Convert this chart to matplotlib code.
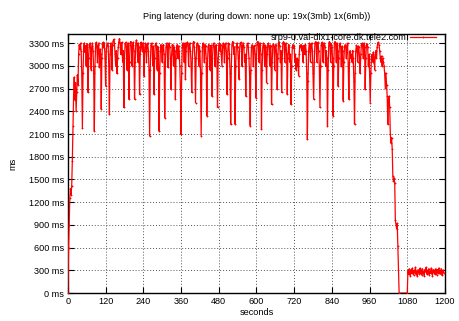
import matplotlib
matplotlib.use("Agg")
import matplotlib.pyplot as plt

# ping samples (seconds since start, latency in ms)
seconds = [
    0, 2, 4, 6, 8, 10, 12, 14, 16, 18,
    20, 22, 24, 26, 28, 30, 32, 34, 36, 38,
    40, 42, 44, 46, 48, 50, 52, 54, 56, 58,
    60, 62, 64, 66, 68, 70, 72, 74, 76, 78,
    80, 82, 84, 86, 88, 90, 92, 94, 96, 98,
    100, 102, 104, 106, 108, 110, 112, 114, 116, 118,
    120, 122, 124, 126, 128, 130, 132, 134, 136, 138,
    140, 142, 144, 146, 148, 150, 152, 154, 156, 158,
    160, 162, 164, 166, 168, 170, 172, 174, 176, 178,
    180, 182, 184, 186, 188, 190, 192, 194, 196, 198,
    200, 202, 204, 206, 208, 210, 212, 214, 216, 218,
    220, 222, 224, 226, 228, 230, 232, 234, 236, 238,
    240, 242, 244, 246, 248, 250, 252, 254, 256, 258,
    260, 262, 264, 266, 268, 270, 272, 274, 276, 278,
    280, 282, 284, 286, 288, 290, 292, 294, 296, 298,
    300, 302, 304, 306, 308, 310, 312, 314, 316, 318,
    320, 322, 324, 326, 328, 330, 332, 334, 336, 338,
    340, 342, 344, 346, 348, 350, 352, 354, 356, 358,
    360, 362, 364, 366, 368, 370, 372, 374, 376, 378,
    380, 382, 384, 386, 388, 390, 392, 394, 396, 398,
    400, 402, 404, 406, 408, 410, 412, 414, 416, 418,
    420, 422, 424, 426, 428, 430, 432, 434, 436, 438,
    440, 442, 444, 446, 448, 450, 452, 454, 456, 458,
    460, 462, 464, 466, 468, 470, 472, 474, 476, 478,
    480, 482, 484, 486, 488, 490, 492, 494, 496, 498,
    500, 502, 504, 506, 508, 510, 512, 514, 516, 518,
    520, 522, 524, 526, 528, 530, 532, 534, 536, 538,
    540, 542, 544, 546, 548, 550, 552, 554, 556, 558,
    560, 562, 564, 566, 568, 570, 572, 574, 576, 578,
    580, 582, 584, 586, 588, 590, 592, 594, 596, 598,
    600, 602, 604, 606, 608, 610, 612, 614, 616, 618,
    620, 622, 624, 626, 628, 630, 632, 634, 636, 638,
    640, 642, 644, 646, 648, 650, 652, 654, 656, 658,
    660, 662, 664, 666, 668, 670, 672, 674, 676, 678,
    680, 682, 684, 686, 688, 690, 692, 694, 696, 698,
    700, 702, 704, 706, 708, 710, 712, 714, 716, 718,
    720, 722, 724, 726, 728, 730, 732, 734, 736, 738,
    740, 742, 744, 746, 748, 750, 752, 754, 756, 758,
    760, 762, 764, 766, 768, 770, 772, 774, 776, 778,
    780, 782, 784, 786, 788, 790, 792, 794, 796, 798,
    800, 802, 804, 806, 808, 810, 812, 814, 816, 818,
    820, 822, 824, 826, 828, 830, 832, 834, 836, 838,
    840, 842, 844, 846, 848, 850, 852, 854, 856, 858,
    860, 862, 864, 866, 868, 870, 872, 874, 876, 878,
    880, 882, 884, 886, 888, 890, 892, 894, 896, 898,
    900, 902, 904, 906, 908, 910, 912, 914, 916, 918,
    920, 922, 924, 926, 928, 930, 932, 934, 936, 938,
    940, 942, 944, 946, 948, 950, 952, 954, 956, 958,
    960, 962, 964, 966, 968, 970, 972, 974, 976, 978,
    980, 982, 984, 986, 988, 990, 992, 994, 996, 998,
    1000, 1002, 1004, 1006, 1008, 1010, 1012, 1014, 1016, 1018,
    1020, 1022, 1024, 1026, 1028, 1030, 1032, 1034, 1036, 1038,
    1040, 1042, 1044, 1046, 1048, 1050, 1052, 1054, 1080,
    1082, 1084, 1086, 1088, 1090, 1092, 1094, 1096, 1098, 1100,
    1102, 1104, 1106, 1108, 1110, 1112, 1114, 1116, 1118, 1120,
    1122, 1124, 1126, 1128, 1130, 1132, 1134, 1136, 1138, 1140,
    1142, 1144, 1146, 1148, 1150, 1152, 1154, 1156, 1158, 1160,
    1162, 1164, 1166, 1168, 1170, 1172, 1174, 1176, 1178, 1180,
    1182, 1184, 1186, 1188, 1190, 1192, 1194, 1196,
]

latency_ms = [
    0, 600, 900, 1250, 1380, 1300, 1420, 1750, 2200, 2600,
    2850, 2550, 2780, 2400, 2650, 2880, 2750, 3150, 3280, 3220,
    3300, 3200, 2900, 2180, 2900, 3250, 3300, 3180, 3270, 3000,
    3250, 3290, 2650, 3100, 3280, 3300, 3230, 2950, 3260, 3300,
    3200, 2900, 2140, 3000, 3270, 3310, 3250, 3050, 3280, 3300,
    2980, 3220, 3150, 2430, 3100, 3290, 3310, 3240, 3300, 3100,
    2735, 3200, 3280, 3300, 3260, 3000, 2360, 3150, 3300, 3250,
    2950, 3280, 3330, 3350, 3300, 3150, 3000, 3200, 2900, 3100,
    3250, 3320, 3360, 3300, 3150, 3280, 3310, 3050, 3200, 2450,
    3100, 3290, 3310, 3250, 2950, 3280, 3300, 2560, 3050, 3300,
    3320, 3260, 3000, 3280, 3310, 3200, 2560, 3050, 3300, 3340,
    3280, 3050, 3300, 3250, 2625, 3150, 3310, 3300, 3200, 3300,
    3250, 2870, 3200, 3300, 3280, 3050, 3290, 3300, 3200, 2950,
    2075, 2950, 3270, 3300, 3250, 3000, 3260, 2625, 3100, 3280,
    3300, 3260, 2950, 3250, 3200, 2140, 2900, 3200, 3280, 3250,
    3050, 3270, 3280, 3150, 2315, 3000, 3250, 3300, 3260, 2980,
    3280, 3300, 3250, 3100, 2690, 3150, 3280, 3270, 3000, 3250,
    3200, 2560, 3100, 3250, 3280, 3100, 3260, 3200, 3000, 2700,
    2095, 2900, 3250, 3300, 3280, 3050, 3300, 2825, 3200, 3300,
    3310, 3260, 3000, 3290, 3300, 3200, 3000, 2650, 3100, 3300,
    3320, 3250, 3100, 2515, 3100, 3290, 3300, 3270, 3000, 3260,
    3200, 2900, 2080, 2900, 3250, 3300, 3270, 3050, 3280, 3260,
    3100, 2340, 3000, 3250, 3280, 3200, 2950, 3270, 3250, 2600,
    3100, 3280, 3300, 3250, 3000, 3270, 3280, 3100, 2450, 3050,
    3270, 3300, 3200, 3280, 3150, 3000, 3250, 3300, 3280, 3050,
    3290, 3300, 3200, 2625, 3100, 3300, 3290, 3150, 2900, 2230,
    3000, 3280, 3320, 3300, 3150, 3250, 2230, 3000, 3260, 3300,
    3250, 3100, 2825, 3200, 3300, 3310, 3260, 3000, 3270, 3300,
    3250, 3050, 3150, 2600, 3100, 3280, 3300, 3250, 3100, 2900,
    2210, 2950, 3250, 3280, 3250, 3000, 3260, 3270, 3150, 2580,
    3100, 3290, 3320, 3300, 3050, 3280, 3300, 3150, 2165, 2950,
    3250, 3300, 3280, 3000, 3270, 3250, 2780, 3150, 3280, 3300,
    3250, 3000, 3270, 3260, 2490, 3050, 3270, 3290, 3250, 2950,
    3260, 3280, 3150, 2690, 3100, 3300, 3310, 3260, 3050, 3200,
    2650, 3100, 3300, 3320, 3300, 3050, 3290, 3300, 3150, 2625,
    3100, 3280, 3250, 3050, 3150, 2490, 3000, 3250, 3280, 3230,
    3260, 3050, 3150, 2950, 3100, 3000, 3080, 2870, 3150, 3270,
    3250, 3280, 3200, 3260, 3050, 3270, 3250, 3150, 3280, 3200,
    2900, 2030, 2800, 3200, 3300, 3280, 3050, 3290, 3300, 3200,
    2900, 2560, 3050, 3300, 3320, 3300, 3050, 3290, 3310, 3200,
    3000, 2450, 3000, 3270, 3310, 3300, 3050, 3280, 3300, 3250,
    3000, 3200, 3100, 2210, 2950, 3270, 3320, 3300, 3050, 3280,
    3250, 3100, 2340, 3000, 3300, 3320, 3290, 3050, 3300, 3200,
    2735, 3100, 3280, 3300, 3250, 3000, 3260, 3200, 2540, 3050,
    3250, 3280, 3250, 3100, 3270, 3300, 3000, 2560, 3050, 3200,
    3100, 3150, 3050, 3200, 3100, 2800, 2230, 2900, 3200, 3270,
    3250, 3050, 3260, 3250, 3100, 2900, 3150, 3280, 3300, 3250,
    3100, 3300, 3250, 2690, 3100, 3280, 3290, 3250, 3000, 3150,
    2900, 2515, 2900, 3100, 3150, 3050, 3180, 3100, 2950, 3150,
    3200, 3100, 3250, 3300, 3310, 3280, 3200, 3100, 3050, 3130,
    3000, 3100, 3050, 3000, 2900, 2710, 2900, 2750, 2600, 2230,
    2550, 2600, 2450, 2100, 1980, 2050, 1900, 1540, 1480, 1520,
    1450, 960, 900, 850, 920, 620, 300, 0, 0,
    290, 250, 320, 270, 230, 310, 260, 330, 280, 240,
    300, 270, 340, 250, 290, 220, 310, 280, 250, 330,
    270, 300, 240, 320, 260, 290, 230, 310, 280, 340,
    250, 300, 270, 320, 240, 290, 260, 330, 280, 230,
    310, 270, 300, 250, 320, 280, 240, 310, 270, 330,
    260, 290, 250, 320, 280, 240, 300, 270,
]

host_label = "srp9-0.val-dix1-core.dk.tele2.com"
chart_title = "Ping latency (during down: none up: 19x(3mb) 1x(6mb))"
x_ticks = [0, 120, 240, 360, 480, 600, 720, 840, 960, 1080, 1200]
y_ticks = [0, 300, 600, 900, 1200, 1500, 1800, 2100, 2400, 2700, 3000, 3300]

plt.rcParams["font.family"] = ["Liberation Sans", "DejaVu Sans"]
fs = 6.6

fig = plt.figure(figsize=(4.59, 3.21), dpi=100)
ax = fig.add_axes([0.148, 0.087, 0.8215, 0.807])

ax.plot(seconds, latency_ms, color="#ff0000", linewidth=0.9, marker="+",
        markersize=2.0, markeredgewidth=0.6, label=host_label, zorder=3)

ax.set_xlim(0, 1200)
ax.set_ylim(0, 3420)
ax.set_xticks(x_ticks)
ax.set_yticks(y_ticks)
ax.set_yticklabels([f"{v} ms" for v in y_ticks])
ax.tick_params(direction="in", length=4, width=0.8, labelsize=fs,
               top=True, right=True, pad=3)
ax.grid(True, color="#555555", linestyle=(0, (1, 2)), linewidth=0.7)
for s in ax.spines.values():
    s.set_linewidth(1.0)

ax.set_xlabel("seconds", fontsize=fs, labelpad=1)
ax.set_ylabel("ms", fontsize=fs, labelpad=8)
ax.set_title(chart_title, fontsize=fs, pad=11)

leg = ax.legend(loc="upper right", bbox_to_anchor=(0.98, 1.01), fontsize=fs,
                frameon=False, handlelength=2.8, handletextpad=0.4,
                borderaxespad=0, borderpad=0.2, markerfirst=False)
leg.set_zorder(5)

fig.savefig("out.png", dpi=100)
